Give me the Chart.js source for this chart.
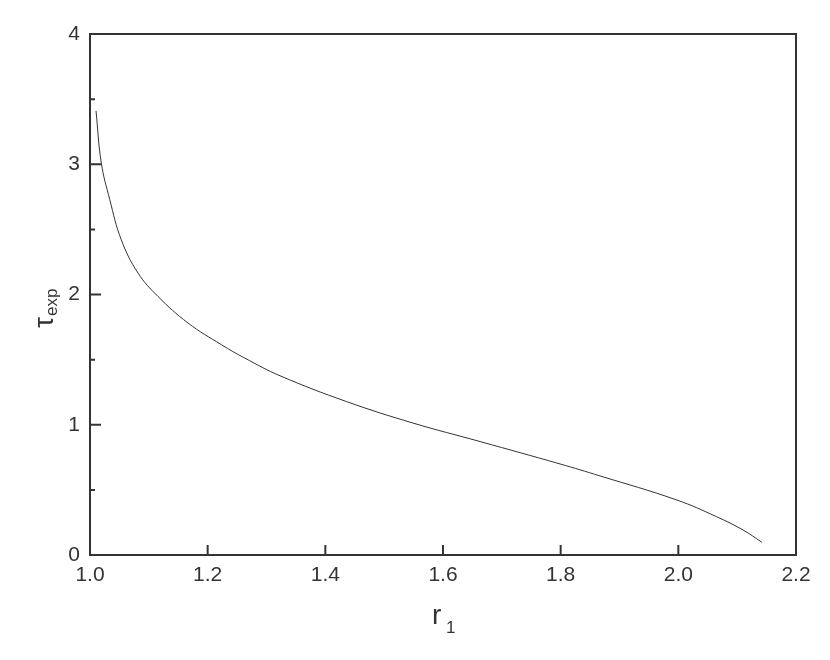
<!DOCTYPE html>
<html>
<head>
<meta charset="utf-8">
<script src="https://cdn.jsdelivr.net/npm/chart.js@4"></script>
<style>
    body {
        margin: 0;
        background: #fff;
    }
    #wrap {
        width: 830px;
        height: 660px;
    }
</style>
</head>
<body>
<div id="wrap">
    <canvas id="tauChart" width="830" height="660"></canvas>
</div>
<script>
    // values
    const r1Values = [1.0102, 1.0192, 1.0335, 1.0532, 1.0816, 1.1156, 1.1666, 1.2232, 1.263, 1.323,
        1.436, 1.549, 1.663, 1.799, 1.867, 1.997, 2.065, 2.110, 2.142];
    const tauValues = [3.41, 3.01, 2.73, 2.42, 2.165, 1.985, 1.781, 1.615, 1.512, 1.376,
        1.178, 1.013, 0.871, 0.699, 0.607, 0.423, 0.294, 0.192, 0.098];
    const xTicks = [1.0, 1.2, 1.4, 1.6, 1.8, 2.0, 2.2];
    const yTicks = [0, 1, 2, 3, 4];
    const yMinorTicks = [0.5, 1.5, 2.5, 3.5];

    const ink = '#333';
    const fontName = '"Liberation Sans", Arial, Helvetica, sans-serif';

    const points = r1Values.map((r, i) => ({ x: r, y: tauValues[i] }));

    // frame, inward ticks and the axis titles with subscripts
    const framePlugin = {
        id: 'frame',
        afterDraw(chart) {
            const ctx = chart.ctx;
            const area = chart.chartArea;
            const xs = chart.scales.x;
            const ys = chart.scales.y;
            ctx.save();
            ctx.strokeStyle = ink;
            ctx.lineWidth = 2;
            ctx.strokeRect(area.left, area.top, area.right - area.left, area.bottom - area.top);

            ctx.beginPath();
            xTicks.forEach(v => {
                const px = xs.getPixelForValue(v);
                ctx.moveTo(px, area.bottom);
                ctx.lineTo(px, area.bottom - 10);
            });
            yTicks.forEach(v => {
                const py = ys.getPixelForValue(v);
                ctx.moveTo(area.left, py);
                ctx.lineTo(area.left + 11, py);
            });
            yMinorTicks.forEach(v => {
                const py = ys.getPixelForValue(v);
                ctx.moveTo(area.left, py);
                ctx.lineTo(area.left + 5, py);
            });
            ctx.stroke();

            ctx.fillStyle = ink;
            ctx.textBaseline = 'alphabetic';
            ctx.textAlign = 'left';

            // x title: r with subscript 1
            ctx.font = '28px ' + fontName;
            ctx.fillText('r', 432, 624);
            ctx.font = '17px ' + fontName;
            ctx.fillText('1', 446, 633);

            // y title: tau with subscript exp, rotated
            ctx.translate(53, 328);
            ctx.rotate(-Math.PI / 2);
            ctx.font = '28px ' + fontName;
            ctx.fillText('τ', 0, 0);
            const w = ctx.measureText('τ').width;
            ctx.font = '17px ' + fontName;
            ctx.fillText('exp', w + 1, 4);
            ctx.restore();
        }
    };

    const config = {
        type: 'scatter',
        data: {
            datasets: [{
                label: 'tau',
                data: points,
                showLine: true,
                borderColor: ink,
                borderWidth: 1,
                pointRadius: 0,
                tension: 0.4,
                fill: false
            }]
        },
        options: {
            responsive: false,
            animation: false,
            layout: {
                padding: { left: 0, right: 34, top: 34, bottom: 0 }
            },
            plugins: {
                legend: { display: false },
                tooltip: { enabled: false }
            },
            scales: {
                x: {
                    type: 'linear',
                    min: 1.0,
                    max: 2.2,
                    afterBuildTicks: (scale) => {
                        scale.ticks = xTicks.map(v => ({ value: v }));
                    },
                    afterFit: (scale) => { scale.height = 105; },
                    grid: { display: false, drawTicks: false },
                    border: { display: false },
                    ticks: {
                        padding: 8,
                        color: ink,
                        font: { family: fontName, size: 21 },
                        callback: v => v.toFixed(1),
                        maxRotation: 0
                    }
                },
                y: {
                    type: 'linear',
                    min: 0,
                    max: 4,
                    afterBuildTicks: (scale) => {
                        scale.ticks = yTicks.map(v => ({ value: v }));
                    },
                    afterFit: (scale) => { scale.width = 90; },
                    grid: { display: false, drawTicks: false },
                    border: { display: false },
                    ticks: {
                        padding: 10,
                        color: ink,
                        font: { family: fontName, size: 21 },
                        callback: v => String(v)
                    }
                }
            }
        },
        plugins: [framePlugin]
    };

    const tauChart = new Chart(document.getElementById('tauChart'), config);
</script>
</body>
</html>
